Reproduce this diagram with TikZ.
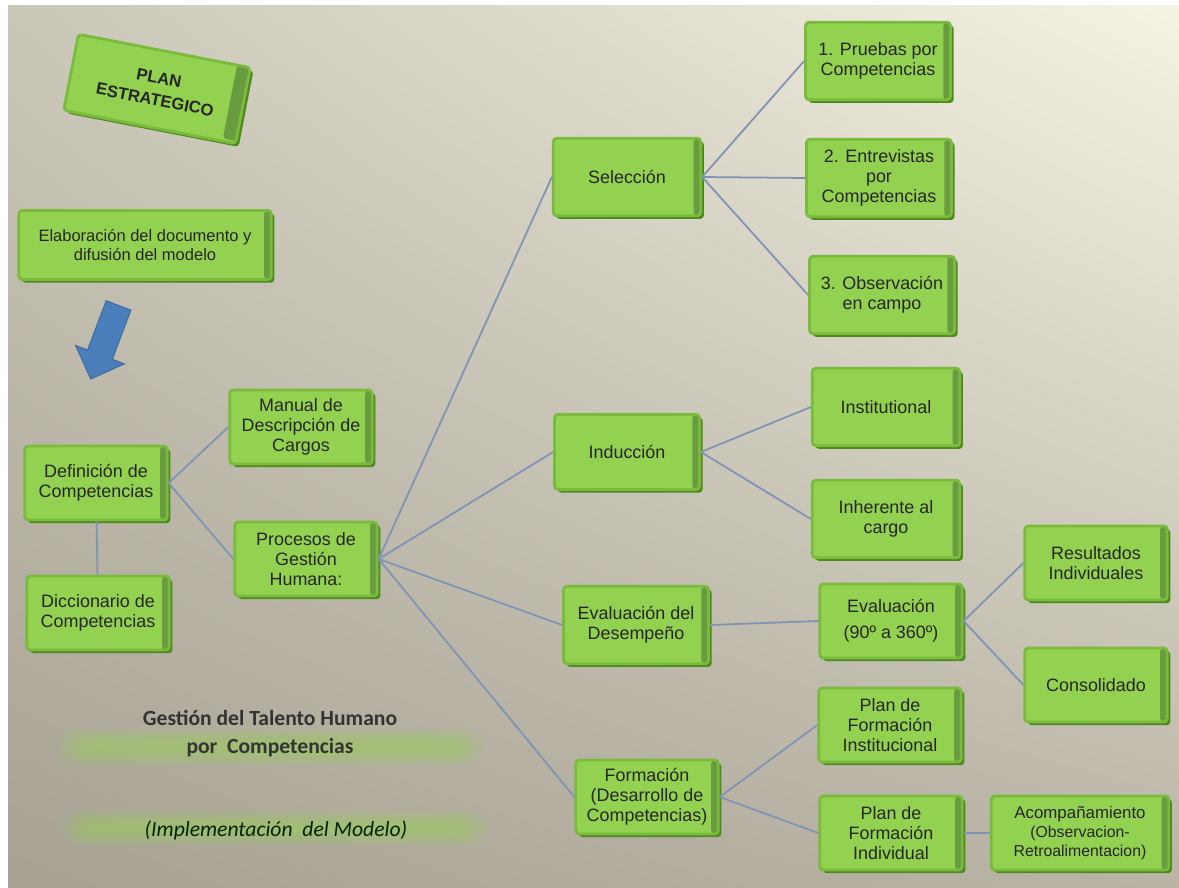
\documentclass[tikz,border=0pt]{standalone}
\usepackage{fontspec}
\setmainfont{Liberation Sans}
\newfontfamily\titlefont{Carlito}
\usetikzlibrary{shadows,shadings,shapes.arrows}

\definecolor{boxgreen}{HTML}{93D150}
\definecolor{boxedge}{HTML}{7ABA3C}
\definecolor{boxdark}{HTML}{4F8A1E}
\definecolor{linkblue}{HTML}{7F93B5}
\definecolor{arrowblue}{HTML}{4A7EBB}
\definecolor{glowgreen}{HTML}{9BD25A}
\definecolor{bgtl}{HTML}{CAC6B8}
\definecolor{bgtr}{HTML}{F6F3E4}
\definecolor{bgbl}{HTML}{A7A294}
\definecolor{bgbr}{HTML}{B9B4A5}

\begin{document}
\begin{tikzpicture}[x=0.02cm,y=-0.02cm,
                    main node/.style={draw=boxedge,line width=1.6pt,fill=boxgreen,
                      rounded corners=2pt,align=center,text=black!85,
                      font=\fontsize{10.2}{11.4}\selectfont,
                      minimum width=2.85cm,minimum height=1.48cm,inner sep=2pt,
                      general shadow={fill=boxdark,shadow xshift=1.8pt,shadow yshift=-1.8pt},
                      path picture={\fill[boxdark!85] ([xshift=-4pt]path picture bounding box.north east)
                        rectangle (path picture bounding box.south east);}},
                    link/.style={draw=linkblue,line width=1pt}]

    % Background
    \useasboundingbox (0,0) rectangle (1179,888);
    \fill[white] (0,0) rectangle (1179,888);
    \shade[upper left=bgtl,upper right=bgtr,lower left=bgbl,lower right=bgbr] (8,6) rectangle (1179,888);

    % Glow bands behind the title
    \foreach \i in {0,...,7} {
        \fill[glowgreen,opacity=0.09,rounded corners=12pt] (55+\i*4,728+\i*2) rectangle (485-\i*4,766-\i*2);
        \fill[glowgreen,opacity=0.09,rounded corners=12pt] (60+\i*4,810+\i*2) rectangle (490-\i*4,846-\i*2);
    }

    % Define vertices
    \node[main node,rotate=-11,minimum width=3.5cm,minimum height=1.55cm,
          font=\fontsize{9.5}{12.5}\selectfont\bfseries] (plan) at (157,89) {PLAN\\ESTRATEGICO};
    \node[main node,minimum width=5.05cm,minimum height=1.38cm,
          font=\fontsize{9.4}{11.3}\selectfont] (elab) at (145,245) {Elaboración del documento y\\difusión del modelo};
    \node[single arrow,fill=arrowblue,draw=arrowblue!80!black,rotate=249.3,inner sep=0.26cm,
          minimum height=1.58cm,single arrow head extend=0.26cm] (down) at (107,336) {};

    \node[main node] (def) at (96,483) {Definición de\\Competencias};
    \node[main node] (dicc) at (98,613) {Diccionario de\\Competencias};
    \node[main node] (manual) at (301,427) {Manual de\\Descripción de\\Cargos};
    \node[main node] (proc) at (306,559) {Procesos de\\Gestión\\Humana:};

    \node[main node,minimum width=2.95cm,minimum height=1.55cm] (sel) at (627,177) {Selección};
    \node[main node,minimum width=2.9cm,minimum height=1.5cm] (ind) at (627,452) {Inducción};
    \node[main node,minimum width=2.9cm,minimum height=1.55cm] (evd) at (636,625) {Evaluación del\\Desempeño};
    \node[main node] (form) at (647,797) {Formación\\(Desarrollo de\\Competencias)};

    \node[main node,minimum width=2.9cm,minimum height=1.55cm] (p1) at (878,61) {1. Pruebas por\\Competencias};
    \node[main node,minimum width=2.9cm,minimum height=1.55cm] (p2) at (879,178) {2. Entrevistas\\por\\Competencias};
    \node[main node,minimum width=2.9cm,minimum height=1.55cm] (p3) at (882,295) {3. Observación\\en campo};
    \node[main node,minimum width=2.95cm,minimum height=1.55cm] (inst) at (886,407) {Institutional};
    \node[main node,minimum width=2.95cm,minimum height=1.55cm] (inh) at (886,519) {Inherente al\\cargo};

    \node[main node,font=\fontsize{10.2}{15}\selectfont] (eval) at (891,621) {Evaluación\\(90º a 360º)};
    \node[main node] (pfi) at (890,725) {Plan de\\Formación\\Institucional};
    \node[main node] (pfind) at (891,833) {Plan de\\Formación\\Individual};

    \node[main node] (res) at (1096,563) {Resultados\\Individuales};
    \node[main node] (cons) at (1096,685) {Consolidado};
    \node[main node,minimum width=3.55cm,font=\fontsize{9.6}{11}\selectfont] (acomp) at (1080,833)
          {Acompañamiento\\{\small(Observacion-}\\{\small Retroalimentacion)}};

    % Title
    \node[font=\titlefont\fontsize{12.3}{15.9}\selectfont\bfseries,text=black!80,align=center]
          (title) at (270,734) {Gestión del Talento Humano\\por\ \ Competencias};
    \node[font=\titlefont\fontsize{12.3}{14}\selectfont\itshape,text=black!75!green!60!black]
          (sub) at (276,830) {(Implementación\ \ del Modelo)};

    % Draw edges
    \path[link]
        (def) edge (dicc)
        (def.east) edge (manual.west)
        (def.east) edge (proc.west)
        (proc.east) edge (sel.west)
        (proc.east) edge (ind.west)
        (proc.east) edge (evd.west)
        (proc.east) edge (form.west)
        (sel.east) edge (p1.west)
        (sel.east) edge (p2.west)
        (sel.east) edge (p3.west)
        (ind.east) edge (inst.west)
        (ind.east) edge (inh.west)
        (evd.east) edge (eval.west)
        (eval.east) edge (res.west)
        (eval.east) edge (cons.west)
        (form.east) edge (pfi.west)
        (form.east) edge (pfind.west)
        (pfind.east) edge (acomp.west);

\end{tikzpicture}
\end{document}
